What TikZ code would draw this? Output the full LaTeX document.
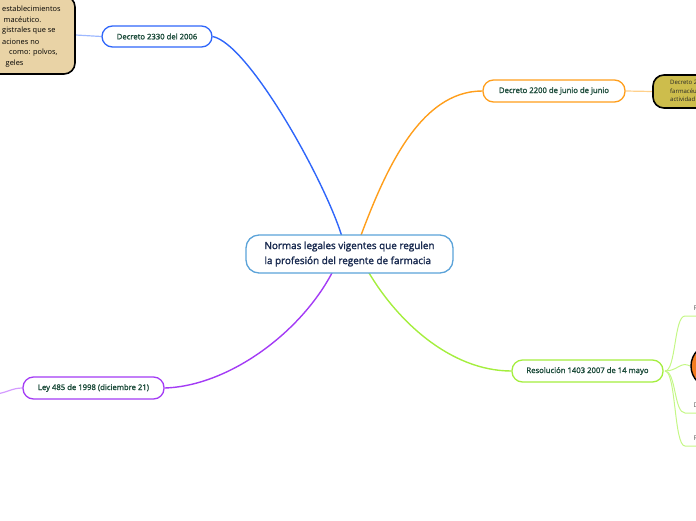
\documentclass[tikz,border=0pt]{standalone}
\usepackage{fontspec}
\setmainfont{Open Sans}
\newfontfamily\semib{Open Sans}[FakeBold=1.8]
\definecolor{cblue}{HTML}{2F66FA}
\definecolor{cblueL}{HTML}{9DB8FF}
\definecolor{corange}{HTML}{FF9E1B}
\definecolor{corangeL}{HTML}{FFD08A}
\definecolor{cpurple}{HTML}{A33BF5}
\definecolor{cpurpleL}{HTML}{D49BFF}
\definecolor{cgreen}{HTML}{A4EE3E}
\definecolor{cgreenL}{HTML}{C4F786}
\definecolor{ccentral}{HTML}{5BA3D9}
\definecolor{ctopic}{HTML}{1F4E3D}
\definecolor{cnavy}{HTML}{1A2B50}
\definecolor{ctan}{HTML}{E9D3A6}
\definecolor{colive}{HTML}{CDBD4C}
\definecolor{ccircle}{HTML}{F47C20}
\pgfdeclarelayer{bg}
\pgfsetlayers{bg,main}
\tikzset{
  topic/.style={draw, line width=1.3pt, fill=white, rounded corners=10.5pt,
    minimum height=22pt, inner sep=0pt, text=ctopic, font=\semib\fontsize{7.7}{9}\selectfont},
  conn/.style={line width=1.4pt},
  subconn/.style={line width=1pt, cgreenL},
  notebox/.style={draw=black, line width=1.6pt, rounded corners=11pt, inner sep=0pt},
  notetxt/.style={anchor=west, inner sep=0pt, text=black, font=\fontsize{7.4}{9}\selectfont},
  tinytxt/.style={anchor=west, inner sep=0pt, text=black!85, font=\fontsize{6}{7}\selectfont},
  childtxt/.style={anchor=west, inner sep=0pt, text=black!65, font=\fontsize{6.5}{8}\selectfont}
}
\begin{document}
\begin{tikzpicture}[x=1pt,y=-1pt]
\useasboundingbox (0,0) rectangle (696,520);
\clip (0,0) rectangle (696,520);

% central node
\node[draw=ccentral, line width=1.3pt, fill=white, rounded corners=13pt,
  minimum width=207pt, minimum height=38pt, inner sep=0pt,
  text=cnavy, font=\semib\fontsize{9.9}{15}\selectfont, align=left]
  (central) at (349.5,254) {Normas legales vigentes que regulen\\la profesión del regente de farmacia};

% main topics
\node[topic, draw=cblue, minimum width=110pt, minimum height=21pt] (d2330) at (157,36.5) {Decreto 2330 del 2006};
\node[topic, draw=corange, minimum width=142pt] (d2200) at (554,91) {Decreto 2200 de junio de junio};
\node[topic, draw=cpurple, minimum width=141pt] (ley) at (93.5,388) {Ley 485 de 1998 (diciembre 21)};
\node[topic, draw=cgreen, minimum width=151pt] (res) at (587.5,371) {Resolución 1403 2007 de 14 mayo};

% note boxes
\node[notebox, fill=ctan, minimum width=107pt, minimum height=78pt] (tan) at (21.5,35) {};
\node[notetxt] (t1) at (2,9) {establecimientos};
\node[notetxt] (t2) at (3.5,20) {macéutico.};
\node[notetxt] (t3) at (2,31) {gistrales que se};
\node[notetxt] (t4) at (2,42) {aciones no};
\node[notetxt] (t5) at (9,53) {como: polvos,};
\node[notetxt] (t6) at (5.5,64) {geles};

\node[notebox, fill=colive, minimum width=107pt, minimum height=33pt] (olive) at (706.5,91.5) {};
\node[tinytxt] (o1) at (670,82.5) {Decreto 2};
\node[tinytxt] (o2) at (670,91) {farmacéu};
\node[tinytxt] (o3) at (670,99.5) {actividad};

\node[circle, draw=black, line width=1.4pt, fill=ccircle, minimum size=44pt, inner sep=0pt] (circ) at (713,366) {};

% child labels of the resolution
\coordinate (rs) at (665,371);
\coordinate (c1a) at (685,316); \coordinate (c1b) at (700,316);
\coordinate (c3a) at (685,413); \coordinate (c3b) at (700,413);
\coordinate (c4a) at (685,446); \coordinate (c4b) at (700,446);
\node[childtxt] (l1) at (693.5,308) {R};
\node[childtxt] (l3) at (693.5,405.5) {D};
\node[childtxt] (l4) at (693.5,438.5) {R};

\begin{pgfonlayer}{bg}
% connectors from central
\draw[conn, cblue] (d2330.east) .. controls (250,44) and (330,190) .. (343.5,242);
\draw[conn, corange] (358.5,242) .. controls (385,170) and (420,91) .. (d2200.west);
\draw[conn, cpurple] (335.5,266) .. controls (305,330) and (230,386) .. (ley.east);
\draw[conn, cgreen] (365,266) .. controls (395,320) and (450,371) .. (res.west);

% secondary connectors
\draw[conn, line width=1.2pt, corangeL] (d2200.east) -- (olive.west);
\draw[conn, line width=1.2pt, cblueL] (d2330.west) -- (tan.east);
\coordinate (leyout) at (-4,394);
\draw[conn, line width=1.2pt, cpurpleL] (ley.west) .. controls (12,388) and (6,393) .. (leyout);

\draw[subconn] (rs) .. controls (676,371) and (674,316) .. (c1a) -- (c1b);
\draw[subconn] (rs) .. controls (678,371) and (680,361) .. (circ.west);
\draw[subconn] (rs) .. controls (676,371) and (674,413) .. (c3a) -- (c3b);
\draw[subconn] (rs) .. controls (676,371) and (674,446) .. (c4a) -- (c4b);
\end{pgfonlayer}
\end{tikzpicture}
\end{document}
